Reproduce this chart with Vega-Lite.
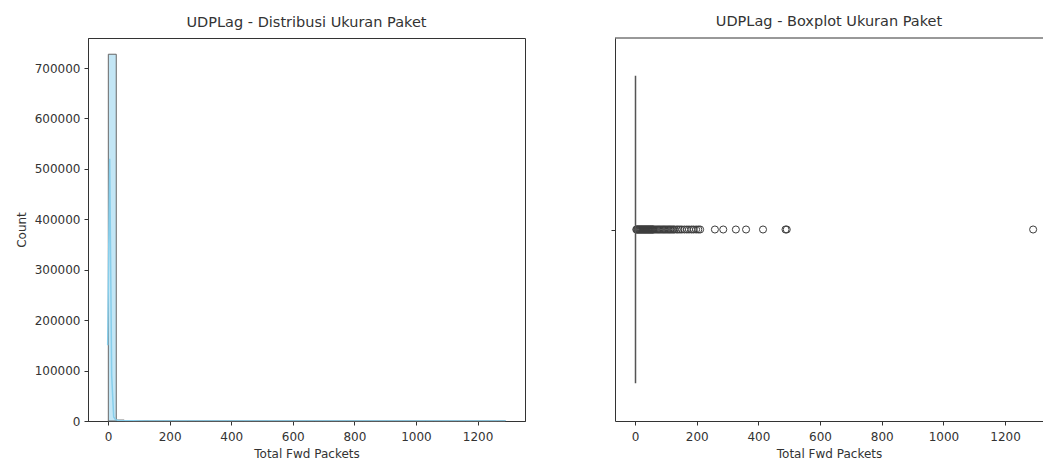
{
  "$schema": "https://vega.github.io/schema/vega-lite/v6.json",
  "background": "white",
  "padding": {"left": 14, "top": 14, "right": 0, "bottom": 0},
  "spacing": 84,
  "config": {
    "font": "DejaVu Sans",
    "view": {"stroke": "#333333", "strokeWidth": 1},
    "axis": {
      "grid": false,
      "labelFont": "DejaVu Sans",
      "labelFontSize": 12,
      "labelColor": "#333333",
      "titleFont": "DejaVu Sans",
      "titleFontSize": 12,
      "titleFontWeight": "normal",
      "titleColor": "#333333",
      "domainColor": "#333333",
      "tickColor": "#333333",
      "tickSize": 4,
      "labelPadding": 4
    },
    "title": {"font": "DejaVu Sans", "fontSize": 14.5, "fontWeight": "normal", "color": "#333333", "offset": 8}
  },
  "datasets": {
    "hist": [
      {"lo": 1, "hi": 26.78, "count": 727300},
      {"lo": 26.78, "hi": 52.56, "count": 1800},
      {"lo": 52.56, "hi": 78.34, "count": 600},
      {"lo": 78.34, "hi": 104.12, "count": 300},
      {"lo": 104.12, "hi": 129.9, "count": 150},
      {"lo": 129.9, "hi": 155.68, "count": 60},
      {"lo": 155.68, "hi": 181.46, "count": 30},
      {"lo": 181.46, "hi": 207.24, "count": 15},
      {"lo": 207.24, "hi": 233.02, "count": 2},
      {"lo": 233.02, "hi": 258.8, "count": 0},
      {"lo": 258.8, "hi": 284.58, "count": 2},
      {"lo": 284.58, "hi": 310.36, "count": 1},
      {"lo": 310.36, "hi": 336.14, "count": 1},
      {"lo": 336.14, "hi": 361.92, "count": 1},
      {"lo": 361.92, "hi": 387.7, "count": 0},
      {"lo": 387.7, "hi": 413.48, "count": 0},
      {"lo": 413.48, "hi": 439.26, "count": 1},
      {"lo": 439.26, "hi": 465.04, "count": 0},
      {"lo": 465.04, "hi": 490.82, "count": 1},
      {"lo": 490.82, "hi": 516.6, "count": 1},
      {"lo": 516.6, "hi": 542.38, "count": 0},
      {"lo": 542.38, "hi": 568.16, "count": 0},
      {"lo": 568.16, "hi": 593.94, "count": 0},
      {"lo": 593.94, "hi": 619.72, "count": 0},
      {"lo": 619.72, "hi": 645.5, "count": 0},
      {"lo": 645.5, "hi": 671.28, "count": 0},
      {"lo": 671.28, "hi": 697.06, "count": 0},
      {"lo": 697.06, "hi": 722.84, "count": 0},
      {"lo": 722.84, "hi": 748.62, "count": 0},
      {"lo": 748.62, "hi": 774.4, "count": 0},
      {"lo": 774.4, "hi": 800.18, "count": 0},
      {"lo": 800.18, "hi": 825.96, "count": 0},
      {"lo": 825.96, "hi": 851.74, "count": 0},
      {"lo": 851.74, "hi": 877.52, "count": 0},
      {"lo": 877.52, "hi": 903.3, "count": 0},
      {"lo": 903.3, "hi": 929.08, "count": 0},
      {"lo": 929.08, "hi": 954.86, "count": 0},
      {"lo": 954.86, "hi": 980.64, "count": 0},
      {"lo": 980.64, "hi": 1006.42, "count": 0},
      {"lo": 1006.42, "hi": 1032.2, "count": 0},
      {"lo": 1032.2, "hi": 1057.98, "count": 0},
      {"lo": 1057.98, "hi": 1083.76, "count": 0},
      {"lo": 1083.76, "hi": 1109.54, "count": 0},
      {"lo": 1109.54, "hi": 1135.32, "count": 0},
      {"lo": 1135.32, "hi": 1161.1, "count": 0},
      {"lo": 1161.1, "hi": 1186.88, "count": 0},
      {"lo": 1186.88, "hi": 1212.66, "count": 0},
      {"lo": 1212.66, "hi": 1238.44, "count": 0},
      {"lo": 1238.44, "hi": 1264.22, "count": 0},
      {"lo": 1264.22, "hi": 1290, "count": 1}
    ],
    "kde": [
      {"x": -1.1, "y": 150000},
      {"x": 5.4, "y": 520000},
      {"x": 11.9, "y": 90000},
      {"x": 18.4, "y": 8000},
      {"x": 24.9, "y": 2500},
      {"x": 31.4, "y": 1500},
      {"x": 37.9, "y": 1000},
      {"x": 50, "y": 600},
      {"x": 80, "y": 300},
      {"x": 120, "y": 120},
      {"x": 160, "y": 40},
      {"x": 200, "y": 15},
      {"x": 260, "y": 3},
      {"x": 400, "y": 1},
      {"x": 600, "y": 0},
      {"x": 900, "y": 0},
      {"x": 1292, "y": 0}
    ],
    "box": [
      {"q1": 1, "q3": 2, "lo": 1, "hi": 3, "top": 0.4, "bottom": -0.4, "mid": 0}
    ],
    "outliers": [
      {"v": 4, "g": 0}, {"v": 6, "g": 0}, {"v": 8, "g": 0}, {"v": 10, "g": 0}, {"v": 12, "g": 0}, {"v": 14, "g": 0},
      {"v": 16, "g": 0}, {"v": 18, "g": 0}, {"v": 20, "g": 0}, {"v": 22, "g": 0}, {"v": 24, "g": 0}, {"v": 26, "g": 0},
      {"v": 28, "g": 0}, {"v": 30, "g": 0}, {"v": 32, "g": 0}, {"v": 34, "g": 0}, {"v": 36, "g": 0}, {"v": 38, "g": 0},
      {"v": 40, "g": 0}, {"v": 42, "g": 0}, {"v": 44, "g": 0}, {"v": 46, "g": 0}, {"v": 48, "g": 0}, {"v": 50, "g": 0},
      {"v": 52, "g": 0}, {"v": 54, "g": 0}, {"v": 56, "g": 0}, {"v": 58, "g": 0}, {"v": 60, "g": 0}, {"v": 64, "g": 0},
      {"v": 68, "g": 0}, {"v": 72, "g": 0}, {"v": 76, "g": 0}, {"v": 80, "g": 0}, {"v": 84, "g": 0}, {"v": 88, "g": 0},
      {"v": 92, "g": 0}, {"v": 96, "g": 0}, {"v": 100, "g": 0}, {"v": 104, "g": 0}, {"v": 108, "g": 0}, {"v": 112, "g": 0},
      {"v": 116, "g": 0}, {"v": 120, "g": 0}, {"v": 124, "g": 0}, {"v": 128, "g": 0}, {"v": 135, "g": 0}, {"v": 140, "g": 0},
      {"v": 146, "g": 0}, {"v": 152, "g": 0}, {"v": 160, "g": 0}, {"v": 168, "g": 0}, {"v": 175, "g": 0}, {"v": 183, "g": 0},
      {"v": 190, "g": 0}, {"v": 198, "g": 0}, {"v": 205, "g": 0}, {"v": 211, "g": 0}, {"v": 259, "g": 0}, {"v": 286, "g": 0},
      {"v": 327, "g": 0}, {"v": 360, "g": 0}, {"v": 415, "g": 0}, {"v": 488, "g": 0}, {"v": 492, "g": 0}, {"v": 1291, "g": 0}
    ]
  },
  "hconcat": [
    {
      "width": 437,
      "height": 383,
      "title": "UDPLag - Distribusi Ukuran Paket",
      "layer": [
        {
          "data": {"name": "hist"},
          "mark": {"type": "rect", "fill": "#87ceeb", "fillOpacity": 0.5, "stroke": "#666666", "strokeWidth": 1},
          "encoding": {
            "x": {"field": "lo", "type": "quantitative", "scale": {"domain": [-65, 1354], "nice": false, "zero": false},
                  "axis": {"values": [0, 200, 400, 600, 800, 1000, 1200], "format": "d", "title": "Total Fwd Packets", "labelPadding": 6, "titlePadding": 6}},
            "x2": {"field": "hi"},
            "y": {"field": "count", "type": "quantitative", "scale": {"domain": [0, 759500], "nice": false},
                  "axis": {"values": [0, 100000, 200000, 300000, 400000, 500000, 600000, 700000], "format": "d", "title": "Count", "titlePadding": 6}},
            "y2": {"datum": 0}
          }
        },
        {
          "data": {"name": "kde"},
          "mark": {"type": "line", "color": "#87ceeb", "strokeWidth": 1.5, "clip": true},
          "encoding": {
            "x": {"field": "x", "type": "quantitative"},
            "y": {"field": "y", "type": "quantitative"}
          }
        }
      ]
    },
    {
      "width": 428,
      "height": 383,
      "title": "UDPLag - Boxplot Ukuran Paket",
      "view": {"stroke": null},
      "layer": [
        {
          "data": {"name": "outliers"},
          "mark": {"type": "point", "shape": "circle", "filled": false, "stroke": "#3d3d3d", "strokeWidth": 1, "size": 50, "opacity": 1, "clip": true},
          "encoding": {
            "x": {"field": "v", "type": "quantitative", "scale": {"domain": [-65, 1323], "nice": false, "zero": false},
                  "axis": {"values": [0, 200, 400, 600, 800, 1000, 1200], "format": "d", "title": "Total Fwd Packets", "labelPadding": 6, "titlePadding": 6}},
            "y": {"field": "g", "type": "quantitative", "scale": {"domain": [-0.5, 0.5], "nice": false},
                  "axis": {"values": [0], "labels": false, "title": null}}
          }
        },
        {
          "data": {"name": "box"},
          "mark": {"type": "rule", "stroke": "#555555", "strokeWidth": 1.2},
          "encoding": {
            "x": {"field": "lo", "type": "quantitative"},
            "x2": {"field": "hi"},
            "y": {"field": "mid", "type": "quantitative"}
          }
        },
        {
          "data": {"name": "box"},
          "mark": {"type": "rect", "fill": "#8a8a8a", "stroke": "#555555", "strokeWidth": 1.2},
          "encoding": {
            "x": {"field": "q1", "type": "quantitative"},
            "x2": {"field": "q3"},
            "y": {"field": "bottom", "type": "quantitative"},
            "y2": {"field": "top"}
          }
        },
        {
          "data": {"values": [{}]},
          "mark": {"type": "rule", "stroke": "#333333", "strokeWidth": 1},
          "encoding": {
            "x": {"datum": -65, "type": "quantitative"},
            "x2": {"datum": 1323},
            "y": {"datum": 0.5, "type": "quantitative"}
          }
        }
      ]
    }
  ]
}
